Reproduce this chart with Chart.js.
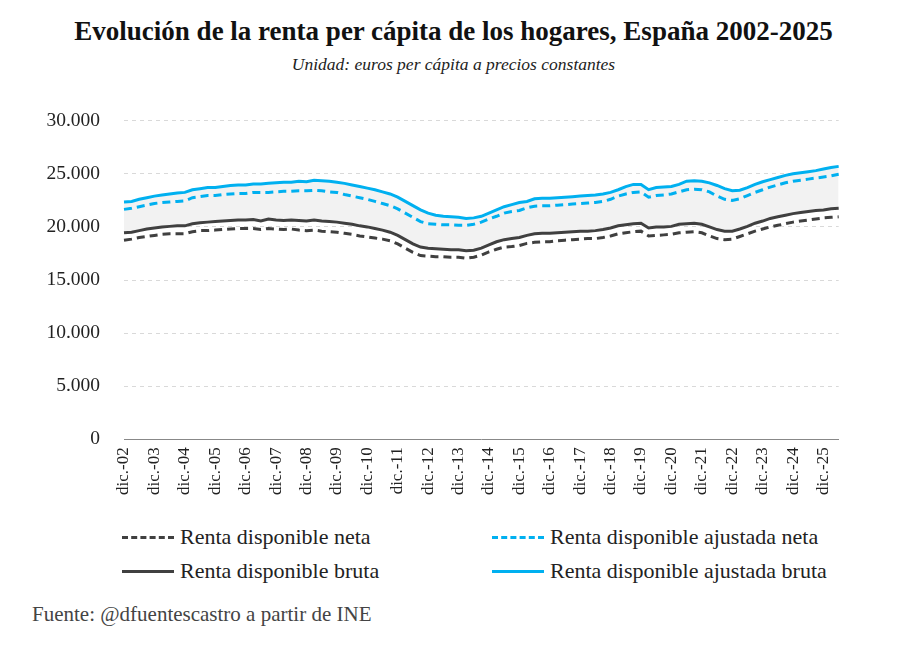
<!DOCTYPE html>
<html>
<head>
<meta charset="utf-8">
<script src="https://cdn.jsdelivr.net/npm/chart.js@4"></script>
<style>
  body { margin: 0; width: 907px; height: 646px; background: #fff; font-family: "Liberation Serif", serif; position: relative; }
  #title { position: absolute; top: 16px; width: 907px; text-align: center; font-size: 27px; font-weight: bold; color: #111; font-family: "Liberation Serif", serif; }
  #sub { position: absolute; top: 54px; width: 907px; text-align: center; font-size: 17.5px; font-style: italic; color: #222; font-family: "Liberation Serif", serif; }
  #wrap { position: absolute; left: 0px; top: 85px; width: 852px; height: 418px; }
  .leg { position: absolute; font-size: 22px; color: #222; display: flex; align-items: center; font-family: "Liberation Serif", serif; }
  .leg span.l { display: inline-block; width: 52px; margin-right: 6px; }
  #src { position: absolute; left: 32px; top: 602px; font-size: 21px; color: #444; font-family: "Liberation Serif", serif; }
</style>
</head>
<body>
<div id="title">Evolución de la renta per cápita de los hogares, España 2002-2025</div>
<div id="sub">Unidad: euros per cápita a precios constantes</div>
<div id="wrap"><canvas id="c"></canvas></div>
<div class="leg" style="left:122px;top:524px"><span class="l" style="border-top:3px dashed #404040"></span>Renta disponible neta</div>
<div class="leg" style="left:492px;top:524px"><span class="l" style="border-top:3px dashed #00b0f0"></span>Renta disponible ajustada neta</div>
<div class="leg" style="left:122px;top:558px"><span class="l" style="border-top:3px solid #404040"></span>Renta disponible bruta</div>
<div class="leg" style="left:492px;top:558px"><span class="l" style="border-top:3px solid #00b0f0"></span>Renta disponible ajustada bruta</div>
<div id="src">Fuente: @dfuentescastro a partir de INE</div>
<script>
// trimestres desde dic-02
const meses = ["mar.", "jun.", "sep.", "dic."];
const labels = ["dic.-02"];
for (let y = 3; y <= 26; y++) {
  for (let q = 0; q < 4; q++) {
    if (labels.length < 95) labels.push(meses[q] + "-" + String(y).padStart(2, "0"));
  }
}

const rentaNeta = [18750,
  18850,19000,19100,19200, 19300,19350,19350,19350, 19550,19650,19650,19700, 19750,19800,19850,19850,
  19850,19750,19850,19800, 19750,19800,19700,19650, 19700,19600,19550,19500, 19400,19300,19150,19050,
  18950,18850,18700,18400, 18000,17600,17300,17250, 17200,17200,17150,17150, 17050,17150,17350,17650,
  17900,18100,18150,18250, 18450,18550,18600,18600, 18700,18750,18800,18850, 18900,18900,19000,19150,
  19350,19450,19550,19600, 19150,19200,19250,19300, 19450,19500,19550,19450, 19150,18900,18800,18850,
  19100,19350,19600,19800, 20000,20150,20300,20450, 20550,20650,20750,20850, 20900,20950];
const rentaAjNeta = [21650,
  21750,21900,22050,22200, 22300,22350,22400,22450, 22750,22850,22950,22950, 23050,23100,23150,23150,
  23250,23250,23250,23300, 23350,23350,23400,23400, 23450,23400,23300,23250, 23050,22900,22750,22600,
  22400,22200,22000,21700, 21300,20900,20500,20300, 20250,20200,20200,20150, 20150,20250,20450,20750,
  21000,21300,21450,21550, 21800,21950,22000,22000, 22050,22100,22150,22200, 22250,22300,22400,22600,
  22900,23100,23250,23300, 22800,22950,23000,23100, 23300,23500,23550,23500, 23300,22900,22600,22500,
  22650,22950,23250,23500, 23750,23950,24150,24300, 24400,24500,24600,24700, 24800,24950];
const rentaBruta = [19450,
  19500,19650,19800,19900, 20000,20050,20100,20100, 20300,20400,20450,20500, 20550,20600,20650,20650,
  20700,20550,20750,20650, 20600,20650,20600,20550, 20650,20550,20500,20450, 20350,20250,20100,20000,
  19850,19700,19500,19200, 18800,18400,18100,18000, 17950,17900,17850,17850, 17750,17800,18000,18300,
  18600,18800,18900,19000, 19200,19350,19400,19400, 19450,19500,19550,19600, 19600,19650,19750,19900,
  20100,20200,20300,20350, 19900,20000,20000,20050, 20250,20300,20350,20250, 20000,19750,19600,19600,
  19800,20050,20350,20550, 20800,20950,21100,21250, 21350,21450,21550,21600, 21700,21750];
const rentaAjBruta = [22350,
  22400,22600,22750,22900, 23000,23100,23200,23250, 23500,23600,23700,23700, 23800,23900,23950,23950,
  24050,24050,24100,24150, 24200,24200,24300,24250, 24400,24350,24300,24200, 24100,23950,23800,23650,
  23500,23300,23100,22800, 22400,22000,21600,21300, 21100,21000,20950,20900, 20800,20850,21000,21300,
  21600,21900,22100,22300, 22400,22650,22700,22700, 22750,22800,22850,22900, 22950,23000,23100,23250,
  23500,23800,24000,24000, 23500,23700,23750,23800, 24000,24300,24350,24300, 24150,23900,23600,23400,
  23450,23700,24000,24250, 24450,24650,24850,25000, 25100,25200,25300,25450, 25600,25700];

const negro = "#404040";
const azul = "#00b0f0";

new Chart(document.getElementById("c"), {
  type: "line",
  data: {
    labels: labels,
    datasets: [
      { label: "Renta disponible neta", data: rentaNeta, borderColor: negro, borderDash: [8, 5], borderWidth: 3, pointRadius: 0, fill: false },
      { label: "Renta disponible ajustada neta", data: rentaAjNeta, borderColor: azul, borderDash: [8, 5], borderWidth: 3, pointRadius: 0, fill: false },
      { label: "Renta disponible bruta", data: rentaBruta, borderColor: negro, borderWidth: 3, pointRadius: 0, fill: false },
      { label: "Renta disponible ajustada bruta", data: rentaAjBruta, borderColor: azul, borderWidth: 3, pointRadius: 0, fill: "-1", backgroundColor: "#f2f2f2" }
    ]
  },
  options: {
    responsive: true,
    maintainAspectRatio: false,
    animation: false,
    layout: { padding: { right: 6, top: 4 } },
    plugins: {
      legend: { display: false },
      tooltip: { enabled: false },
      filler: { drawTime: "beforeDatasetsDraw" }
    },
    scales: {
      x: {
        offset: false,
        grid: { display: false, drawTicks: false },
        border: { color: "#888", width: 1 },
        ticks: {
          autoSkip: false, minRotation: 90, maxRotation: 90, padding: 8,
          color: "#222", font: { family: "Liberation Serif", size: 17 },
          callback: function (v, i) { return labels[i].startsWith("dic.") ? labels[i] : null; }
        }
      },
      y: {
        min: 0, max: 30000,
        afterFit: s => { s.width = 124; },
        grid: { color: "#d9d9d9", drawTicks: false },
        border: { display: false, dash: [4, 4] },
        ticks: {
          stepSize: 5000, padding: 24, color: "#222", font: { family: "Liberation Serif", size: 19.5 },
          callback: v => String(v).replace(/\B(?=(\d{3})+(?!\d))/g, ".")
        }
      }
    }
  }
});
</script>
</body>
</html>
